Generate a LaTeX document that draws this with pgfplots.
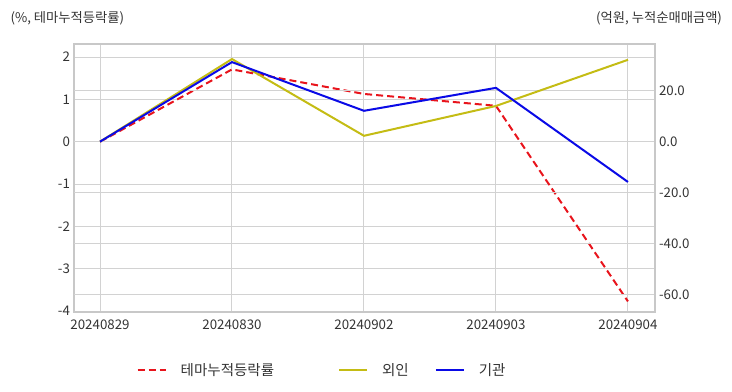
\documentclass[border=0pt]{standalone}
\usepackage{fontspec}
\setmainfont{Noto Sans CJK KR}
\usepackage{pgfplots}
\pgfplotsset{compat=1.18}
\definecolor{gridc}{HTML}{D2D2D2}
\definecolor{framec}{HTML}{C8C8C8}
\definecolor{txt}{HTML}{333333}
\definecolor{rser}{HTML}{E8141C}
\definecolor{yser}{HTML}{C4BC14}
\definecolor{bser}{HTML}{0A0AE6}
\begin{document}
\begin{tikzpicture}
\path[use as bounding box] (0,0) rectangle (732bp,392bp);
\begin{axis}[
 at={(74bp,80bp)}, anchor=south west,
 scale only axis, width=581bp, height=268bp,
 xmin=-0.197, xmax=4.205, ymin=-4.02, ymax=2.31,
 xtick={0,...,4}, xticklabels={20240829,20240830,20240902,20240903,20240904},
 ytick={-4,...,2},
 xmajorgrids, ymajorgrids,
 grid style={gridc, line width=1bp},
 axis line style={framec, line width=2bp},
 major tick length=0,
 tick label style={font=\fontsize{13.3bp}{15bp}\selectfont, text=txt},
 /pgf/number format/assume math mode=true,
 xticklabel style={yshift=-4bp},
 yticklabel style={xshift=-0.5bp},
]
\addplot[rser, line width=2bp, dash pattern=on 7bp off 4bp] coordinates {(0,0) (1,1.71) (2,1.13) (3,0.85) (4,-3.77)};
\end{axis}
\begin{axis}[
 at={(74bp,80bp)}, anchor=south west,
 scale only axis, width=581bp, height=268bp,
 xmin=-0.197, xmax=4.205, ymin=-66.8, ymax=38.3,
 hide x axis,
 axis y line*=right,
 ytick={-60,-40,-20,0,20},
 ymajorgrids,
 grid style={gridc, line width=1bp},
 axis line style={framec, line width=2bp},
 major tick length=0,
 tick label style={font=\fontsize{13.3bp}{15bp}\selectfont, text=txt},
 /pgf/number format/assume math mode=true,
 yticklabel={\pgfmathprintnumber[fixed,fixed zerofill,precision=1]{\tick}},
 yticklabel style={xshift=0.5bp},
 legend columns=3,
 legend image code/.code={\draw[#1] (0bp,0bp) -- (28bp,0bp);},
 legend style={at={(axis description cs:0.427,-0.216)}, anchor=center, draw=none, fill=none,
   font=\fontsize{14.5bp}{16bp}\selectfont, text=txt,
   /tikz/every odd column/.style={column sep=12bp},
   /tikz/every even column/.style={column sep=24bp}},
]
\addlegendimage{rser, line width=2bp, dash pattern=on 7bp off 4bp}
\addlegendentry{테마누적등락률\rule{38bp}{0pt}}
\addplot[yser, line width=2bp] coordinates {(0,0) (1,32.4) (2,2.3) (3,14.0) (4,32.1)};
\addlegendentry{외인}
\addplot[bser, line width=2bp] coordinates {(0,0) (1,31.2) (2,12.1) (3,21.1) (4,-15.8)};
\addlegendentry{기관}
\end{axis}
\node[anchor=west, font=\fontsize{13.3bp}{15bp}\selectfont, text=txt] at (7bp,374bp) {(\%, 테마누적등락률)};
\node[anchor=east, font=\fontsize{13.3bp}{15bp}\selectfont, text=txt] at (725.5bp,374bp) {(억원, 누적순매매금액)};
\end{tikzpicture}
\end{document}
